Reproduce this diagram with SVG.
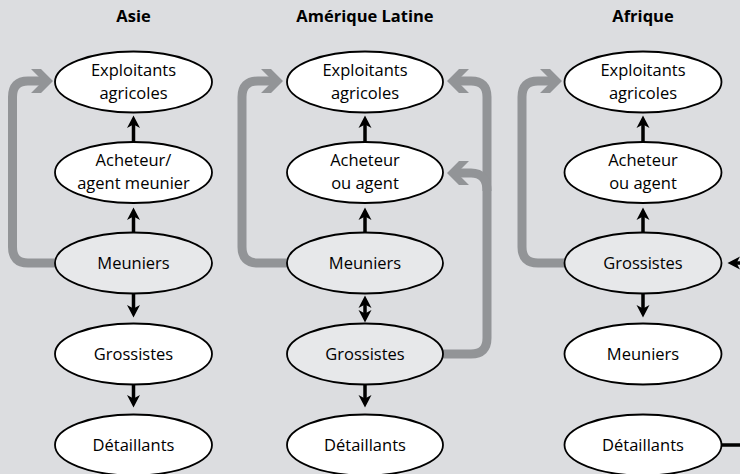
<svg xmlns="http://www.w3.org/2000/svg" width="740" height="474" viewBox="0 0 740 474">
  <style>
    .title { font-family: "Open Sans", "Noto Sans", sans-serif; font-weight: bold; font-size: 16.5px; fill: #000; text-anchor: middle; }
    .lbl { font-family: "Open Sans", "Noto Sans", sans-serif; font-size: 16.5px; fill: #000; text-anchor: middle; }
    .node { stroke: #000; stroke-width: 1.8; fill: #fff; }
    .node.mill { fill: #e7e8ea; }
    .flow { fill: none; stroke: #000; stroke-width: 3.5; }
    .flow.up, .flow.down { marker-end: url(#headBlack); }
    .flow.both { marker-start: url(#headBlack); marker-end: url(#headBlack); }
    .loop { fill: none; stroke: #929497; stroke-width: 9; marker-end: url(#headGrey); }
  </style>
  <defs>
    <marker id="headBlack" viewBox="0 0 14 14" refX="5" refY="7" markerWidth="14" markerHeight="14" markerUnits="userSpaceOnUse" orient="auto-start-reverse">
      <path d="M13.5,7 L1,0.5 L4.5,7 L1,13.5 Z" fill="#000"/>
    </marker>
    <marker id="headGrey" viewBox="0 0 24 26" refX="10" refY="13" markerWidth="24" markerHeight="26" markerUnits="userSpaceOnUse" orient="auto">
      <path d="M23,13 L11,1 L1,1 L10,10 L10,16 L1,25 L11,25 Z" fill="#929497"/>
    </marker>
  </defs>

  <rect x="0" y="0" width="740" height="474" fill="#dcdde0"/>

  <!-- column titles -->
  <text class="title" x="133.5" y="22">Asie</text>
  <text class="title" x="365" y="22">Amérique Latine</text>
  <text class="title" x="643" y="22">Afrique</text>

  <!-- connectors -->
  <g id="connectors">
    <!-- Asie -->
    <path class="loop" d="M56,263 H28 Q12.5,263 12.5,247 V97 Q12.5,81 28,81 H40"/>
    <path class="flow up" d="M133.5,143 V124"/>
    <path class="flow up" d="M133.5,233 V216"/>
    <path class="flow down" d="M133.5,293 V309"/>
    <path class="flow down" d="M133.5,384 V399"/>
    <!-- Amérique Latine -->
    <path class="loop" d="M288,263 H258 Q242,263 242,247 V97 Q242,81 258,81 H270"/>
    <path class="loop" d="M443,354 H471 Q487,354 487,338 V97 Q487,81 471,81 H460"/>
    <path class="loop" d="M487,191 Q487,173 471,173 H460"/>
    <path class="flow up" d="M365,143 V124"/>
    <path class="flow up" d="M365,233 V216"/>
    <path class="flow both" d="M365,304 V314"/>
    <path class="flow down" d="M365,384 V399"/>
    <!-- Afrique -->
    <path class="loop" d="M565,263 H538 Q522,263 522,247 V97 Q522,81 538,81 H549"/>
    <path class="flow up" d="M643,143 V124"/>
    <path class="flow up" d="M643,233 V216"/>
    <path class="flow down" d="M643,293 V309"/>
    <path class="flow" d="M744,263 H736" style="marker-end:url(#headBlack)"/>
    <path class="flow" d="M722,445 H742"/>
  </g>

  <!-- Asie -->
  <g id="asie-exploitants">
    <ellipse class="node" cx="133.5" cy="82" rx="78.5" ry="30.5"/>
    <text class="lbl" x="133.5" y="76">Exploitants</text>
    <text class="lbl" x="133.5" y="98.5">agricoles</text>
  </g>
  <g id="asie-acheteur">
    <ellipse class="node" cx="133.5" cy="172.5" rx="78.5" ry="30.5"/>
    <text class="lbl" x="133.5" y="166">Acheteur/</text>
    <text class="lbl" x="133.5" y="188.5">agent meunier</text>
  </g>
  <g id="asie-meuniers">
    <ellipse class="node mill" cx="133.5" cy="263" rx="78.5" ry="30.5"/>
    <text class="lbl" x="133.5" y="269">Meuniers</text>
  </g>
  <g id="asie-grossistes">
    <ellipse class="node" cx="133.5" cy="354" rx="78.5" ry="30.5"/>
    <text class="lbl" x="133.5" y="360">Grossistes</text>
  </g>
  <g id="asie-detaillants">
    <ellipse class="node" cx="133.5" cy="445" rx="78.5" ry="30.5"/>
    <text class="lbl" x="133.5" y="451">Détaillants</text>
  </g>

  <!-- Amérique Latine -->
  <g id="am-exploitants">
    <ellipse class="node" cx="365" cy="82" rx="78" ry="30.5"/>
    <text class="lbl" x="365" y="76">Exploitants</text>
    <text class="lbl" x="365" y="98.5">agricoles</text>
  </g>
  <g id="am-acheteur">
    <ellipse class="node" cx="365" cy="172.5" rx="78" ry="30.5"/>
    <text class="lbl" x="365" y="166">Acheteur</text>
    <text class="lbl" x="365" y="188.5">ou agent</text>
  </g>
  <g id="am-meuniers">
    <ellipse class="node mill" cx="365" cy="263" rx="78" ry="30.5"/>
    <text class="lbl" x="365" y="269">Meuniers</text>
  </g>
  <g id="am-grossistes">
    <ellipse class="node mill" cx="365" cy="354" rx="78" ry="30.5"/>
    <text class="lbl" x="365" y="360">Grossistes</text>
  </g>
  <g id="am-detaillants">
    <ellipse class="node" cx="365" cy="445" rx="78" ry="30.5"/>
    <text class="lbl" x="365" y="451">Détaillants</text>
  </g>

  <!-- Afrique -->
  <g id="af-exploitants">
    <ellipse class="node" cx="643" cy="82" rx="78.5" ry="30.5"/>
    <text class="lbl" x="643" y="76">Exploitants</text>
    <text class="lbl" x="643" y="98.5">agricoles</text>
  </g>
  <g id="af-acheteur">
    <ellipse class="node" cx="643" cy="172.5" rx="78.5" ry="30.5"/>
    <text class="lbl" x="643" y="166">Acheteur</text>
    <text class="lbl" x="643" y="188.5">ou agent</text>
  </g>
  <g id="af-grossistes">
    <ellipse class="node mill" cx="643" cy="263" rx="78.5" ry="30.5"/>
    <text class="lbl" x="643" y="269">Grossistes</text>
  </g>
  <g id="af-meuniers">
    <ellipse class="node" cx="643" cy="354" rx="78.5" ry="30.5"/>
    <text class="lbl" x="643" y="360">Meuniers</text>
  </g>
  <g id="af-detaillants">
    <ellipse class="node" cx="643" cy="445" rx="78.5" ry="30.5"/>
    <text class="lbl" x="643" y="451">Détaillants</text>
  </g>
</svg>
